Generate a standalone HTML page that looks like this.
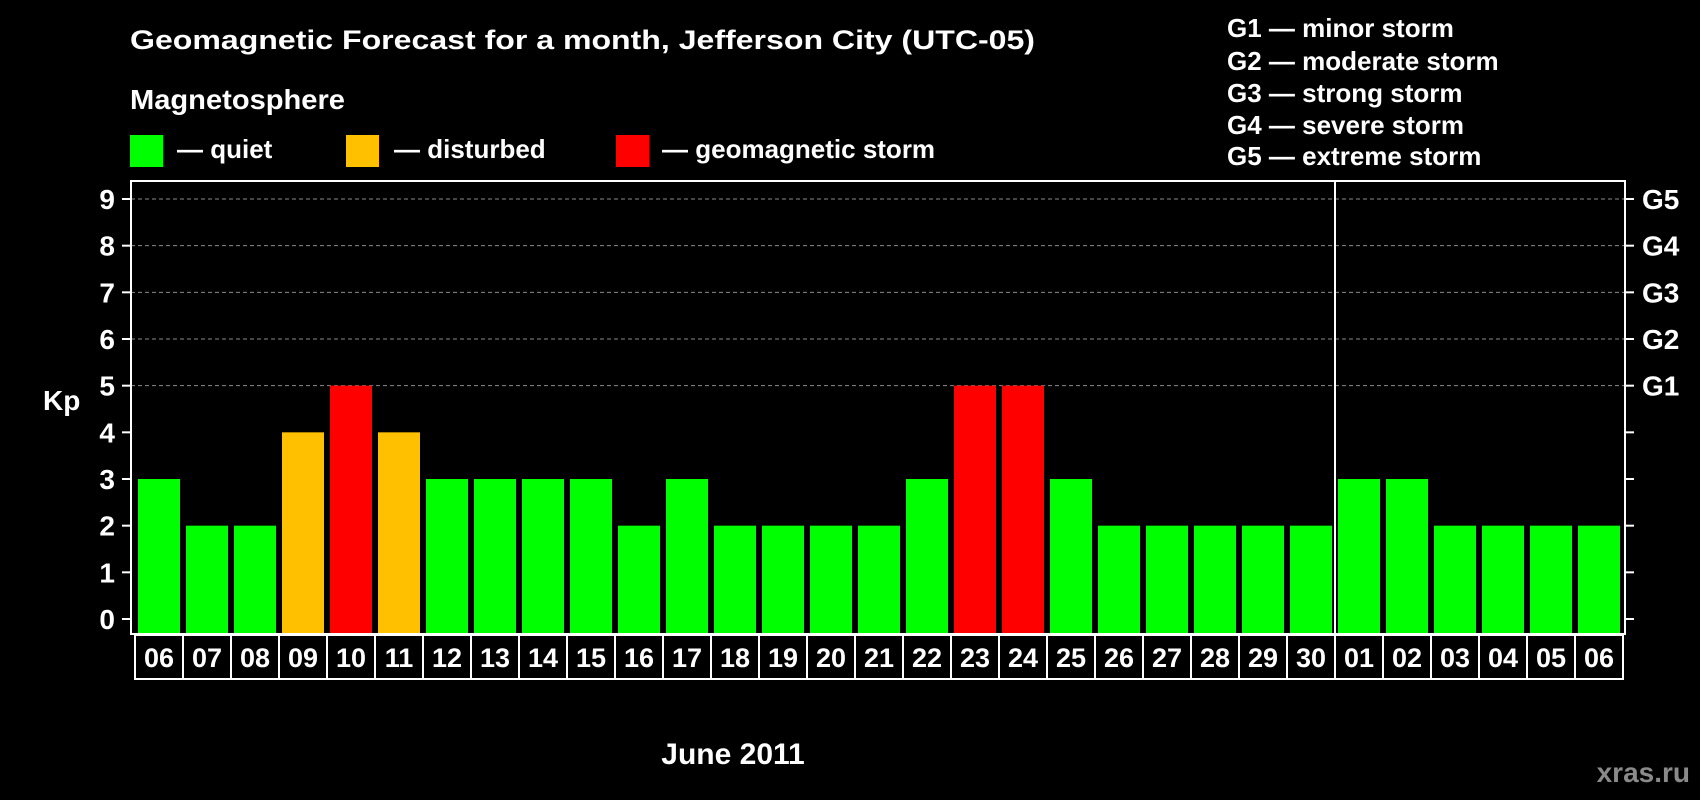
<!DOCTYPE html>
<html><head><meta charset="utf-8"><style>
html,body{margin:0;padding:0;background:#000;}
svg{display:block;font-family:"Liberation Sans",Arial,sans-serif;font-weight:bold;}
</style></head><body>
<svg id="chart" width="1700" height="800" viewBox="0 0 1700 800" xmlns="http://www.w3.org/2000/svg">
<rect width="1700" height="800" fill="#000"/>
<text x="130" y="49" fill="#fff" font-size="27" textLength="905" lengthAdjust="spacingAndGlyphs">Geomagnetic Forecast for a month, Jefferson City (UTC-05)</text>
<text x="130" y="109" fill="#fff" font-size="28" textLength="215" lengthAdjust="spacingAndGlyphs">Magnetosphere</text>
<g><rect x="130" y="135" width="33" height="32" fill="#00ff00"/><text x="177" y="158" fill="#fff" font-size="26">— quiet</text></g>
<g><rect x="346" y="135" width="33" height="32" fill="#ffc000"/><text x="394" y="158" fill="#fff" font-size="26">— disturbed</text></g>
<g><rect x="616" y="135" width="33" height="32" fill="#ff0000"/><text x="662" y="158" fill="#fff" font-size="26">— geomagnetic storm</text></g>
<g fill="#fff" font-size="26">
<text x="1227" y="37">G1 — minor storm</text>
<text x="1227" y="70">G2 — moderate storm</text>
<text x="1227" y="102">G3 — strong storm</text>
<text x="1227" y="134">G4 — severe storm</text>
<text x="1227" y="165">G5 — extreme storm</text>
</g>
<g id="grid"></g>
<g id="bars"></g>
<g id="axes"></g>
<text x="43" y="410" fill="#fff" font-size="28">Kp</text>
<text x="733" y="764" fill="#fff" font-size="30" text-anchor="middle">June 2011</text>
<text x="1690" y="782" fill="#8a8a8a" font-size="28" text-anchor="end">xras.ru</text>
</svg>
<script>
const days = ["06","07","08","09","10","11","12","13","14","15","16","17","18","19","20","21","22","23","24","25","26","27","28","29","30","01","02","03","04","05","06"];
const kpValues = [3,2,2,4,5,4,3,3,3,3,2,3,2,2,2,2,3,5,5,3,2,2,2,2,2,3,3,2,2,2,2];
const yTicks = [0,1,2,3,4,5,6,7,8,9];
const gLabels = ["G1","G2","G3","G4","G5"];
const gLevels = [5,6,7,8,9];
const monthBreakIndex = 25;

const NS = "http://www.w3.org/2000/svg";
const L = 131, R = 1625, T = 181, B = 634;
const y0 = 619, unit = (619 - 199) / 9;
const pitch = (R - L - 6) / days.length;
function yScale(v){ return y0 - v * unit; }
function xScale(i){ return L + 7 + i * pitch; }
function mk(tag, attrs, parent){ const e = document.createElementNS(NS, tag); for (const k in attrs) e.setAttribute(k, attrs[k]); parent.appendChild(e); return e; }
function color(v){ return v >= 5 ? "#ff0000" : (v >= 4 ? "#ffc000" : "#00ff00"); }

const grid = document.getElementById("grid"), bars = document.getElementById("bars"), axes = document.getElementById("axes");
gLevels.forEach(v => {
  const ln = mk("line", {x1: L, x2: R, y1: yScale(v), y2: yScale(v), stroke: "#8a8a8a", "stroke-width": 1, "stroke-dasharray": "4,3"}, grid);
  
  
});
kpValues.forEach((v, i) => {
  const r = mk("rect", {x: xScale(i), y: yScale(v), width: pitch - 6, height: B - yScale(v), fill: color(v)}, bars);
  
  
});
const frame = mk("rect", {x: L, y: T, width: R - L, height: B - T, fill: "none", stroke: "#fff", "stroke-width": 2}, axes);


const sep = mk("line", {x1: xScale(monthBreakIndex) - 3, x2: xScale(monthBreakIndex) - 3, y1: T, y2: B, stroke: "#fff", "stroke-width": 2}, axes);


yTicks.forEach(v => {
  const y = yScale(v);
  mk("line", {x1: L - 9, x2: L, y1: y, y2: y, stroke: "#fff", "stroke-width": 2}, axes);
  mk("line", {x1: R, x2: R + 9, y1: y, y2: y, stroke: "#fff", "stroke-width": 2}, axes);
  const t = mk("text", {x: 115, y: y + 10, fill: "#fff", "font-size": 28, "text-anchor": "end"}, axes);
  t.textContent = v;
  
  
});
gLabels.forEach((g, i) => {
  const t = mk("text", {x: 1642, y: yScale(gLevels[i]) + 10, fill: "#fff", "font-size": 28}, axes);
  t.textContent = g;
  
  
});
days.forEach((d, i) => {
  const bx = xScale(i) - 3;
  const box = mk("rect", {x: bx, y: 635, width: pitch, height: 44, fill: "#000", stroke: "#fff", "stroke-width": 2}, axes);
  
  
  const t = mk("text", {x: bx + pitch / 2, y: 667, fill: "#fff", "font-size": 27, "text-anchor": "middle"}, axes);
  t.textContent = d;
  
  
});
</script>
</body></html>
